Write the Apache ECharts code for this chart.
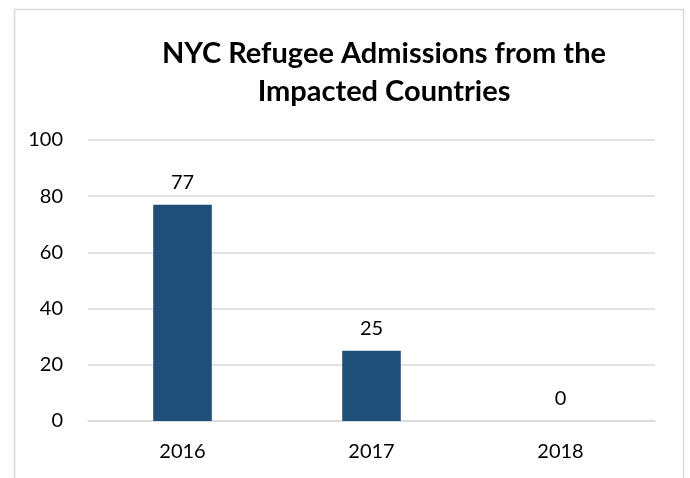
<!DOCTYPE html>
<html><head><meta charset="utf-8">
<script src="https://cdn.jsdelivr.net/npm/echarts@6/dist/echarts.min.js"></script>
<style>html,body{margin:0;padding:0;background:#fff}#c{width:690px;height:478px}</style>
</head><body><div id="c"></div>
<script>
const categories = ['2016', '2017', '2018'];
const admissions = [77, 25, 0];
const titleText = 'NYC Refugee Admissions from the\nImpacted Countries';

const chart = echarts.init(document.getElementById('c'), null, {renderer: 'canvas'});
const font = 'Lato, "Open Sans", sans-serif';
chart.setOption({
  animation: false,
  backgroundColor: '#fff',
  graphic: [{
    type: 'rect', left: 12, top: 7,
    shape: {width: 669, height: 480},
    style: {fill: 'none', stroke: '#d9d9d9', lineWidth: 1.5},
    silent: true
  }],
  title: {
    text: titleText,
    left: 379, top: 30, textAlign: 'center',
    textStyle: {fontFamily: font, fontWeight: 'bold', fontSize: 29, lineHeight: 38, color: '#000'}
  },
  grid: {left: 88, right: 35, top: 140, bottom: 57},
  xAxis: {
    type: 'category', data: categories,
    axisTick: {show: false},
    axisLine: {lineStyle: {color: '#d9d9d9', width: 1.5}},
    axisLabel: {fontFamily: font, fontSize: 20, color: '#000', margin: 21}
  },
  yAxis: {
    type: 'value', min: 0, max: 100, interval: 20,
    axisLine: {show: false}, axisTick: {show: false},
    splitLine: {lineStyle: {color: '#d9d9d9', width: 1.5}},
    axisLabel: {fontFamily: font, fontSize: 20, color: '#000', margin: 25}
  },
  series: [{
    type: 'bar', data: admissions, barWidth: '31%',
    itemStyle: {color: '#1F4E79'},
    label: {show: true, position: 'top', distance: 12, fontFamily: font, fontSize: 20, color: '#000'}
  }]
});
</script></body></html>
